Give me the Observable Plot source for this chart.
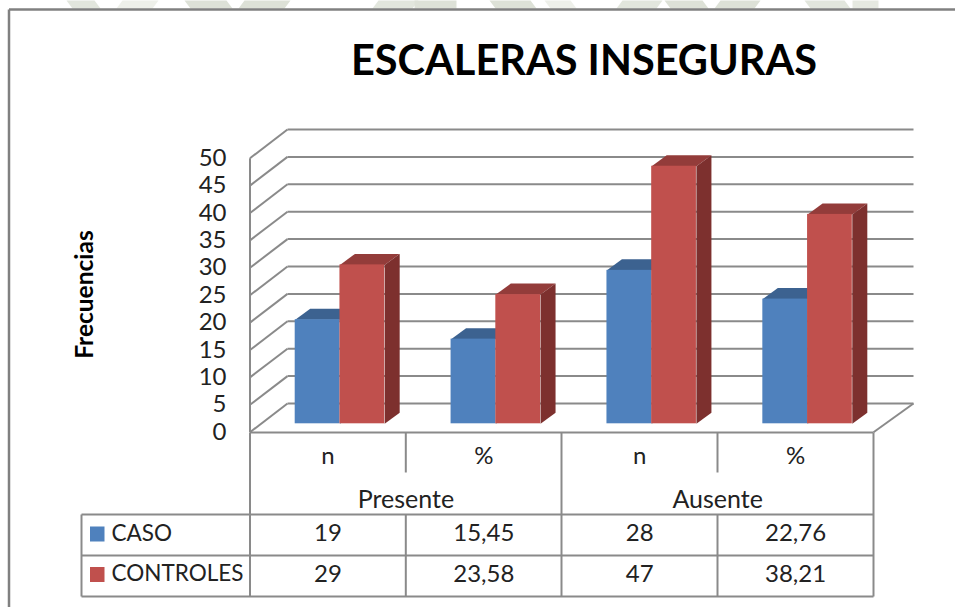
<!DOCTYPE html>
<html><head><meta charset="utf-8">
<script src="https://cdn.jsdelivr.net/npm/d3@7"></script>
<script src="https://cdn.jsdelivr.net/npm/@observablehq/plot@0.6"></script>
<style>html,body{margin:0;padding:0;background:#fff}svg{display:block}</style>
</head><body><div id="c"></div>
<script>
const categories = ["n","%","n","%"];
const groups = ["Presente","Ausente"];
const series = ["CASO","CONTROLES"];
const casoValues = [19,15.45,28,22.76];
const controlesValues = [29,23.58,47,38.21];
const yTicks = d3.range(0,55,5);
const colors = {CASO:["#4f81bd","#3c6290","#34557e"],CONTROLES:["#c0504d","#933c3a","#7d302e"]};

// pixel <-> data helpers for chart furniture
const X0=249.5,XU=155.875,Y0=423.3,YU=5.48;
const X=p=>(p-X0)/XU, Y=p=>(Y0-p)/YU;
const grey="#8a8a8a", font="Lato", ink="#222";
const barOff=0.29, barW=0.287, bdx=15/XU, bdy=11/YU;

const bars=[];
categories.forEach((c,i)=>{
  bars.push({s:"CASO",x1:i+barOff,x2:i+barOff+barW,v:casoValues[i]});
  bars.push({s:"CONTROLES",x1:i+barOff+barW,x2:i+barOff+2*barW,v:controlesValues[i]});
});
const poly=(arr,id)=>arr.map(([x,y])=>({x,y,id}));
const topFace=s=>bars.filter(b=>b.s===s).flatMap((b,k)=>poly([[b.x1,b.v],[b.x1+bdx,b.v+bdy],[b.x2+bdx,b.v+bdy],[b.x2,b.v]],"t"+k));
const sideFace=s=>bars.filter(b=>b.s===s).flatMap((b,k)=>poly([[b.x2,0],[b.x2+bdx,bdy],[b.x2+bdx,b.v+bdy],[b.x2,b.v]],"s"+k));

// walls and gridlines
const fy=Y(431.7), by=Y(403), bl=X(287), br=X(913);
const wallLines=[];
yTicks.forEach(v=>{
  wallLines.push({x1:0,y1:v+fy,x2:bl,y2:v+by});
  wallLines.push({x1:bl,y1:v+by,x2:br,y2:v+by});
});
wallLines.push({x1:0,y1:fy,x2:0,y2:50+fy});
wallLines.push({x1:4,y1:fy,x2:br,y2:by});

// table lines (pixel layout)
const L=(a,b,c,d)=>({x1:X(a),y1:Y(b),x2:X(c),y2:Y(d)});
const tableLines=[
 L(249.5,432,873,432),L(249.5,432,249.5,596),L(873,432,873,596),
 L(81,514,873,514),L(81,555,873,555),L(81,596,873,596),L(81,514,81,596),
 L(405.3,432,405.3,472),L(405.3,514,405.3,596),
 L(561,432,561,596),
 L(717,432,717,472),L(717,514,717,596)
];
const frameLines=[L(8.5,9,955,9),L(8.5,9,8.5,607)];
// faint page watermark showing above the frame: [left, right, slant, colour]
const watermark=[[72,100,-6,"#e2e6dd"],[116,152,6,"#eef0ea"],[190,232,-6,"#dde1d7"],[238,284,6,"#dde1d7"],[372,412,6,"#e2e6dd"],[414,456,0,"#dde1d7"],[495,536,-6,"#dde1d7"],[550,576,-6,"#eef0ea"],[616,656,6,"#e2e6dd"],[670,708,-6,"#dde1d7"],[714,754,6,"#dde1d7"],[810,850,-6,"#e2e6dd"],[852,878,0,"#e6e9e1"]];

const fmt=v=>String(v).replace(".",",");
const T=(text,x,y,size,extra={})=>Plot.text([text],{x:()=>x,y:()=>y,text:d=>d,fontSize:size,fontFamily:font,fill:ink,...extra});
const tx=i=>i+0.5;

const marks=[];
watermark.forEach(([a,b,s,c],i)=>marks.push(Plot.line(poly([[X(a),Y(8)],[X(b),Y(8)],[X(b+s),Y(0)],[X(a+s),Y(0)]],"w"+i),{x:"x",y:"y",fill:c,stroke:"none"})));
marks.push(
  Plot.link(frameLines,{x1:"x1",y1:"y1",x2:"x2",y2:"y2",stroke:"#808080",strokeWidth:2.5}),
  Plot.link(wallLines,{x1:"x1",y1:"y1",x2:"x2",y2:"y2",stroke:grey,strokeWidth:2}),
  Plot.link(tableLines,{x1:"x1",y1:"y1",x2:"x2",y2:"y2",stroke:grey,strokeWidth:2})
);
for(const s of series){
  marks.push(Plot.line(topFace(s),{x:"x",y:"y",z:"id",fill:colors[s][1],stroke:"none"}));
  marks.push(Plot.line(sideFace(s),{x:"x",y:"y",z:"id",fill:colors[s][2],stroke:"none"}));
  marks.push(Plot.rect(bars.filter(b=>b.s===s),{x1:"x1",x2:"x2",y1:()=>0,y2:"v",fill:colors[s][0]}));
}
// y tick labels
marks.push(Plot.text(yTicks,{x:()=>X(226),y:d=>d+fy,text:d=>String(d),textAnchor:"end",fontSize:24,fontFamily:font,fill:ink}));
// title, axis title
marks.push(T("ESCALERAS INSEGURAS",X(583.5),Y(61),41.5,{fontWeight:700,fill:"#000"}));
marks.push(T("Frecuencias",X(84.5),Y(294),24.5,{fontWeight:700,rotate:-90,fill:"#000"}));
// table
categories.forEach((c,i)=>{
  marks.push(T(c,tx(i),Y(456),24));
  marks.push(T(fmt(casoValues[i]),tx(i),Y(533),24));
  marks.push(T(fmt(controlesValues[i]),tx(i),Y(574),24));
});
groups.forEach((g,i)=>marks.push(T(g,2*i+1,Y(499),25)));
series.forEach((s,i)=>{
  const rowY=[534,574.5][i];
  marks.push(Plot.rect([s],{x1:()=>X(90),x2:()=>X(104.5),y1:()=>Y(rowY-7.5),y2:()=>Y(rowY+7.5),fill:colors[s][0]}));
  marks.push(T(s,X(111),Y(rowY-1),22.5,{textAnchor:"start"}));
});

const chart=Plot.plot({
  width:955,height:607,margin:0,
  x:{domain:[0,4],range:[X0,X0+4*XU],axis:null},
  y:{domain:[0,50],range:[Y0,Y0-50*YU],axis:null},
  style:{background:"#fff",fontFamily:font},
  marks
});
document.getElementById("c").append(chart);
</script></body></html>
